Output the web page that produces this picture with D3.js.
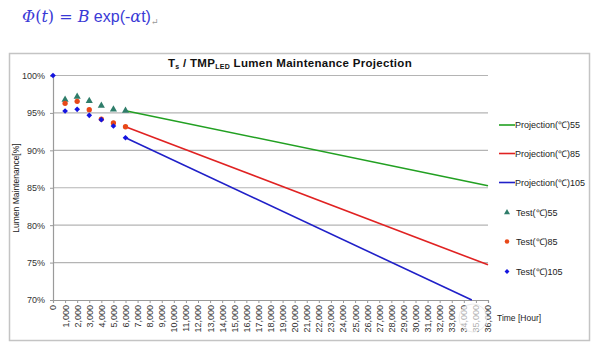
<!DOCTYPE html>
<html><head><meta charset="utf-8">
<script src="https://cdn.jsdelivr.net/npm/d3@7"></script>
<style>body{margin:0;background:#fff}svg{display:block}</style>
</head><body>
<svg id="c" width="598" height="348"></svg>
<script>
// ---- data ----
const testHours = [0, 1000, 2000, 3000, 4000, 5000, 6000];
const test55  = [null, 96.77, 97.17, 96.6, 95.97, 95.48, 95.3];
const test85  = [null, 96.28, 96.55, 95.43, 94.18, 93.65, 93.15];
const test105 = [100, 95.25, 95.48, 94.68, 94.1, 93.25, 91.68];
const projHours55 = [6000, 36000];
const proj55  = [95.3, 85.27];
const projHours85 = [6000, 36000];
const proj85  = [93.15, 74.7];
const projHours105 = [6000, 34660];
const proj105 = [91.68, 70];
const yTicks = [70, 75, 80, 85, 90, 95, 100];
const xTicks = d3.range(0, 36001, 1000);
const legendLabels = ["Projection(℃)55","Projection(℃)85","Projection(℃)105","Test(℃)55","Test(℃)85","Test(℃)105"];
const colGreen = "#22a022", colRed = "#e02222", colBlue = "#2020c8";
const mkGreen = "#2f7d6a", mkRed = "#e84818", mkBlue = "#1414e0";

const svg = d3.select("#c");
const x = d3.scaleLinear().domain([0, 36000]).range([53, 488]);
const y = d3.scaleLinear().domain([70, 100]).range([300, 75.5]);

// formula
const f = svg.append("text").attr("x", 22).attr("y", 22)
  .attr("font-family", "'DejaVu Serif', serif").attr("font-size", 16).attr("fill", "#3a3ad6");
f.append("tspan").attr("font-style", "italic").text("Φ");
f.append("tspan").text("(");
f.append("tspan").attr("font-style", "italic").text("t");
f.append("tspan").text(") = ");
f.append("tspan").attr("font-style", "italic").text("B");
f.append("tspan").attr("font-family", "'Liberation Sans', Arial, sans-serif").text(" exp(-");
f.append("tspan").attr("font-style", "italic").text("α");
f.append("tspan").attr("font-family", "'Liberation Sans', Arial, sans-serif").text("t)");
f.append("tspan").attr("font-size", 9).attr("fill", "#999").attr("dy", 3).text("↵");

// border
svg.append("rect").attr("x", 9.5).attr("y", 53.5).attr("width", 580).attr("height", 287)
  .attr("fill", "#fff").attr("stroke", "#c4c4c4").attr("stroke-width", 1.5);

// title
const t = svg.append("text").attr("x", 290).attr("y", 67).attr("text-anchor", "middle")
  .attr("font-family", "'Liberation Sans', Arial, sans-serif").attr("font-weight", "bold")
  .attr("font-size", 11.5).attr("letter-spacing", 0.3).attr("fill", "#111");
t.append("tspan").text("T");
t.append("tspan").attr("font-size", 7).attr("dy", 2).text("s");
t.append("tspan").attr("dy", -2).text(" / TMP");
t.append("tspan").attr("font-size", 7).attr("dy", 2).text("LED");
t.append("tspan").attr("dy", -2).text(" Lumen Maintenance Projection");

// gridlines
svg.append("g").selectAll("line").data(yTicks.filter(d => d > 70)).join("line")
  .attr("x1", x(0)).attr("x2", x(36000)).attr("y1", d => y(d)).attr("y2", d => y(d))
  .attr("stroke", "#b4b4b4").attr("stroke-width", 1.2);

// axes
const yAxis = svg.append("g").attr("transform", `translate(${x(0)},0)`)
  .call(d3.axisLeft(y).tickValues(yTicks).tickSize(3).tickPadding(5).tickFormat(d => d + "%"));
const xAxis = svg.append("g").attr("transform", `translate(0,${y(70)})`)
  .call(d3.axisBottom(x).tickValues(xTicks).tickSize(3).tickFormat(d3.format(",")));
[yAxis, xAxis].forEach(g => {
  g.select(".domain").attr("stroke", "#9a9a9a").attr("stroke-width", 1.2);
  g.selectAll(".tick line").attr("stroke", "#9a9a9a");
  g.selectAll("text").attr("font-family", "'Liberation Sans', Arial, sans-serif")
    .attr("font-size", 9).attr("fill", "#333");
});
xAxis.selectAll(".tick text").attr("transform", "rotate(-90)")
  .attr("text-anchor", "end").attr("x", -5).attr("y", 0).attr("dy", "0.33em");

// y label
svg.append("text").attr("transform", "translate(19,188) rotate(-90)").attr("text-anchor", "middle")
  .attr("font-family", "'Liberation Sans', Arial, sans-serif").attr("font-size", 8.5).attr("fill", "#222")
  .text("Lumen Maintenance[%]");
// x label
svg.append("text").attr("x", 497).attr("y", 321)
  .attr("font-family", "'Liberation Sans', Arial, sans-serif").attr("font-size", 8.5).attr("fill", "#222")
  .text("Time [Hour]");

// projection lines
const line = d3.line().x(d => x(d[0])).y(d => y(d[1]));
[[projHours55, proj55, colGreen], [projHours85, proj85, colRed], [projHours105, proj105, colBlue]]
  .forEach(([h, v, c]) => {
    svg.append("path").datum(h.map((d, i) => [d, v[i]])).attr("d", line)
      .attr("fill", "none").attr("stroke", c).attr("stroke-width", 1.6);
  });

// test markers
const shape = {tri: [d3.symbolTriangle, 0], cir: [d3.symbolCircle, 0], dia: [d3.symbolSquare, 45]};
function marker(s, size) { return d3.symbol(shape[s][0], size)(); }
[[test55, "tri", mkGreen, 22], [test85, "cir", mkRed, 22], [test105, "dia", mkBlue, 16]].forEach(([vals, s, c, sz]) => {
  svg.append("g").selectAll("path").data(testHours.map((h, i) => [h, vals[i]]).filter(d => d[1] != null))
    .join("path").attr("d", marker(s, sz)).attr("fill", c)
    .attr("transform", d => `translate(${x(d[0])},${y(d[1])}) rotate(${shape[s][1]})`);
});

// watermark-ish faint circle
svg.append("circle").attr("cx", 473).attr("cy", 318).attr("r", 14)
  .attr("fill", "#fff").attr("fill-opacity", 0.6).attr("stroke", "#ddd").attr("stroke-opacity", 0.6);

// legend
const lg = svg.append("g").attr("font-family", "'Liberation Sans', Arial, sans-serif").attr("font-size", 9).attr("fill", "#222");
const legY = [125, 153.5, 182.5, 212.5, 241.5, 271.5];
const lcol = [colGreen, colRed, colBlue];
const msym = [["tri", mkGreen, 16], ["cir", mkRed, 16], ["dia", mkBlue, 12]];
legendLabels.forEach((lab, i) => {
  if (i < 3) {
    lg.append("line").attr("x1", 499).attr("x2", 515).attr("y1", legY[i]).attr("y2", legY[i])
      .attr("stroke", lcol[i]).attr("stroke-width", 1.6);
    lg.append("text").attr("x", 515).attr("y", legY[i]).attr("dy", "0.35em").text(lab);
  } else {
    const [s, c, sz] = msym[i - 3];
    lg.append("path").attr("d", marker(s, sz))
      .attr("fill", c).attr("transform", `translate(507,${legY[i]}) rotate(${shape[s][1]})`);
    lg.append("text").attr("x", 516).attr("y", legY[i]).attr("dy", "0.35em").text(lab);
  }
});
</script>
</body></html>
